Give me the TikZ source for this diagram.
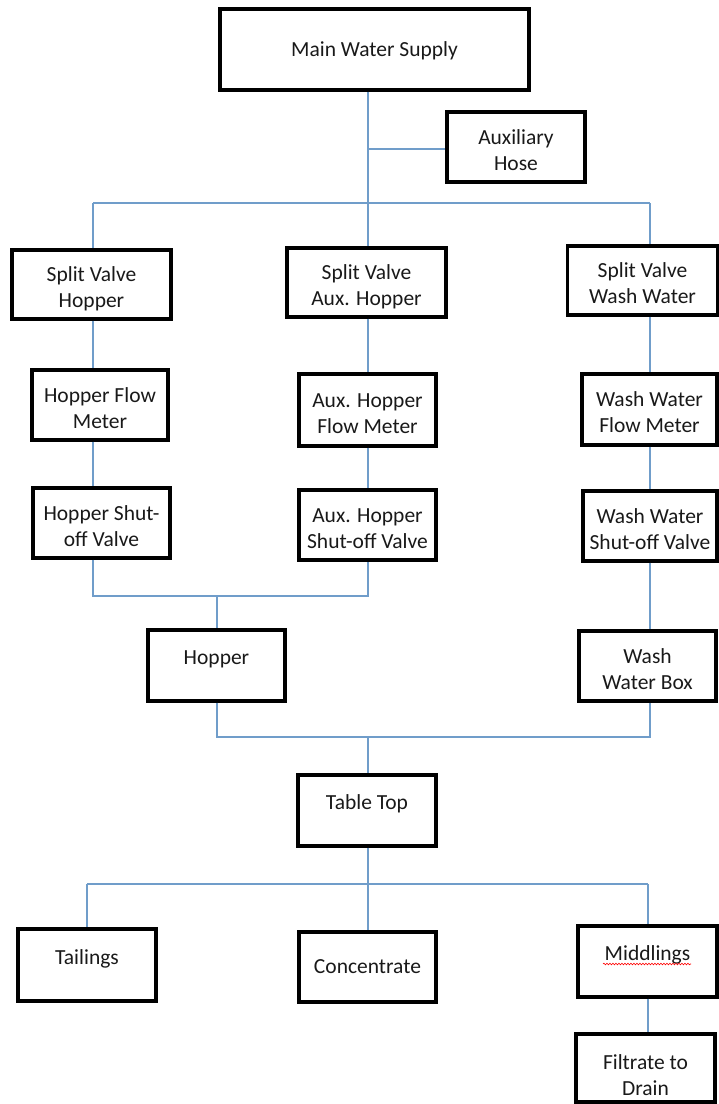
\documentclass[tikz,border=0pt]{standalone}
\usepackage{fontspec}
\setmainfont{Carlito}
\usetikzlibrary{decorations.pathmorphing}
\definecolor{conn}{RGB}{112,157,202}
\definecolor{ink}{RGB}{25,25,25}
\begin{document}
\begin{tikzpicture}[x=1pt,y=-1pt,
  box/.style={draw=black, line width=3.2pt, inner sep=0pt, align=center,
    font=\fontsize{21.5}{26}\selectfont, text=ink},
  sz/.style n args={2}{minimum width=#1pt, minimum height=#2pt},
  one/.style={text height=12pt, text depth=13.2pt},
  mid/.style={text height=14pt, text depth=0.2pt},
  two/.style={text height=50pt, text depth=3.2pt},
  low/.style={text height=58pt, text depth=3.2pt},
  wire/.style={draw=conn, line width=1.3pt}]
\useasboundingbox (0,0) rectangle (719,1104);

% boxes
\node[box, mid, sz={309}{81}] (main) at (374.5,49.5) {Main Water Supply};
\node[box, two, sz={138}{70}] (aux) at (516,147) {Auxiliary\\Hose};
\node[box, two, sz={159}{69}] (svh) at (91.5,284.5) {Split Valve\\Hopper};
\node[box, two, sz={159}{69}] (sva) at (366.5,282.5) {Split Valve\\Aux. Hopper};
\node[box, two, sz={150}{69}] (svw) at (642.5,280.5) {Split Valve\\Wash Water};
\node[box, two, sz={136}{70}] (hfm) at (100,405) {Hopper Flow\\Meter};
\node[box, two, sz={137}{72}] (afm) at (367.5,410) {Aux. Hopper\\Flow Meter};
\node[box, two, sz={135}{71}] (wfm) at (649.5,409.5) {Wash Water\\Flow Meter};
\node[box, two, sz={137}{70}] (hsv) at (101.5,523) {Hopper Shut-\\off Valve};
\node[box, two, sz={137}{70}] (asv) at (367.5,525) {Aux. Hopper\\Shut-off Valve};
\node[box, two, sz={134}{70}] (wsv) at (650,526) {Wash Water\\Shut-off Valve};
\node[box, one, sz={137}{71}] (hop) at (216.5,665.5) {Hopper};
\node[box, two, sz={137}{70}] (wwb) at (647.5,666) {Wash\\Water Box};
\node[box, one, sz={138}{71}] (top) at (367,810.5) {Table Top};
\node[box, one, sz={138}{72}] (tail) at (87,965) {Tailings};
\node[box, mid, sz={137}{70}] (conc) at (367.5,967) {Concentrate};
\node[box, one, sz={139}{71}] (midd) at (647.5,961.5) {Middlings};
\node[box, low, sz={139}{68}] (filt) at (645.5,1068) {Filtrate to\\Drain};

% spell-check underline
\draw[red, line width=0.6pt, decorate,
  decoration={snake, amplitude=0.8pt, segment length=3pt}] (603,964) -- (691,964);

% junctions
\coordinate (ja) at (368,149);
\coordinate (jb) at (368,203);
\coordinate (jl) at (93,203);
\coordinate (jr) at (650,203);
\coordinate (jc) at (93,596);
\coordinate (jd) at (368,596);
\coordinate (je) at (217,596);
\coordinate (jf) at (217,737);
\coordinate (jg) at (650,737);
\coordinate (jh) at (368,737);
\coordinate (ji) at (368,884);
\coordinate (jk) at (87,884);
\coordinate (jm) at (648,884);

% connectors
\draw[wire] (main.south -| ja) -- (jb);
\draw[wire] (ja) -- (aux.west |- ja);
\draw[wire] (jl) -- (jr);
\draw[wire] (jl) -- (svh.north -| jl);
\draw[wire] (jb) -- (sva.north -| jb);
\draw[wire] (jr) -- (svw.north -| jr);
\draw[wire] (svh.south -| jl) -- (hfm.north -| jl);
\draw[wire] (hfm.south -| jl) -- (hsv.north -| jl);
\draw[wire] (sva.south -| jb) -- (afm.north -| jb);
\draw[wire] (afm.south -| jb) -- (asv.north -| jb);
\draw[wire] (svw.south -| jr) -- (wfm.north -| jr);
\draw[wire] (wfm.south -| jr) -- (wsv.north -| jr);
\draw[wire] (wsv.south -| jr) -- (wwb.north -| jr);
\draw[wire] (hsv.south -| jc) -- (jc) -- (jd) -- (asv.south -| jd);
\draw[wire] (je) -- (hop.north -| je);
\draw[wire] (hop.south -| jf) -- (jf) -- (jg) -- (wwb.south -| jg);
\draw[wire] (jh) -- (top.north -| jh);
\draw[wire] (top.south -| ji) -- (conc.north -| ji);
\draw[wire] (jk) -- (jm);
\draw[wire] (jk) -- (tail.north -| jk);
\draw[wire] (jm) -- (midd.north -| jm);
\draw[wire] (midd.south -| jm) -- (filt.north -| jm);
\end{tikzpicture}
\end{document}
